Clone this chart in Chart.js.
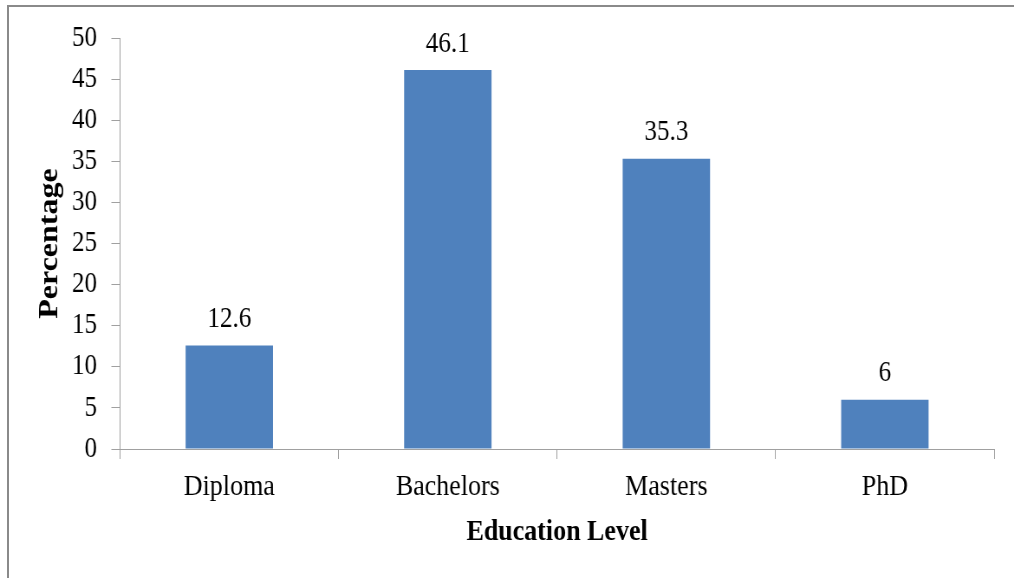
<!DOCTYPE html>
<html>
<head>
<meta charset="utf-8">
<script src="https://cdn.jsdelivr.net/npm/chart.js@4.4.1/dist/chart.umd.min.js"></script>
<style>
  html, body { margin: 0; padding: 0; background: #fff; overflow: hidden; }
  #frame {
    position: absolute; left: 7px; top: 5px; width: 1100px; height: 600px;
    border-top: 2px solid #8a8a8a; border-left: 2px solid #8a8a8a;
    box-sizing: border-box;
  }
  /* the chart is laid out on a wider canvas and narrowed to the page width,
     which gives the condensed serif lettering */
  #wrap { position: absolute; left: 0; top: 0; transform: scaleX(0.8667); transform-origin: 0 0; }
  canvas { display: block; }
</style>
</head>
<body>
<div id="frame"></div>
<div id="wrap"><canvas id="c" width="1170" height="578" style="width:1170px;height:578px"></canvas></div>
<script>
const categories = ['Diploma', 'Bachelors', 'Masters', 'PhD'];
const percentages = [12.6, 46.1, 35.3, 6];
const yTicks = [0, 5, 10, 15, 20, 25, 30, 35, 40, 45, 50];

const SERIF = '"Liberation Serif", "Times New Roman", serif';
const AXIS_GREY = '#a0a0a0';

// value labels above each bar
const barValueLabels = {
  id: 'barValueLabels',
  afterDatasetsDraw(chart) {
    const ctx = chart.ctx;
    const meta = chart.getDatasetMeta(0);
    const values = chart.data.datasets[0].data;
    ctx.save();
    ctx.font = '29px ' + SERIF;
    ctx.fillStyle = '#000';
    ctx.textAlign = 'center';
    ctx.textBaseline = 'alphabetic';
    meta.data.forEach((bar, i) => {
      ctx.fillText(String(values[i]), bar.x, bar.y - 18.5);
    });
    ctx.restore();
  }
};

new Chart(document.getElementById('c'), {
  type: 'bar',
  data: {
    labels: categories,
    datasets: [{
      data: percentages,
      backgroundColor: '#4F81BD',
      borderWidth: 0,
      barPercentage: 0.4,
      categoryPercentage: 1.0
    }]
  },
  options: {
    responsive: false,
    devicePixelRatio: 1,
    animation: false,
    layout: { padding: { left: 0, right: 23, top: 38, bottom: 0 } },
    plugins: {
      legend: { display: false },
      tooltip: { enabled: false }
    },
    scales: {
      x: {
        offset: true,
        grid: {
          display: true,
          offset: true,
          drawOnChartArea: false,
          drawTicks: true,
          tickLength: 10,
          color: AXIS_GREY
        },
        border: { display: true, color: AXIS_GREY, width: 1 },
        ticks: {
          color: '#000',
          padding: 10,
          font: { family: SERIF, size: 30 },
          maxRotation: 0
        },
        title: {
          display: true,
          text: 'Education Level',
          color: '#000',
          font: { family: SERIF, size: 30, weight: 'bold' },
          padding: { top: 0, bottom: 28 }
        },
        afterFit(scale) { scale.height = 129; }
      },
      y: {
        min: 0,
        max: 50,
        afterBuildTicks(scale) { scale.ticks = yTicks.map(v => ({ value: v })); },
        grid: {
          display: true,
          drawOnChartArea: false,
          drawTicks: true,
          tickLength: 10,
          color: AXIS_GREY
        },
        border: { display: true, color: AXIS_GREY, width: 1 },
        ticks: {
          color: '#000',
          padding: 16.5,
          font: { family: SERIF, size: 29 }
        },
        title: {
          display: true,
          text: 'Percentage',
          color: '#000',
          font: { family: SERIF, size: 32, weight: 'bold' },
          padding: { top: 39, bottom: 0 }
        },
        afterFit(scale) { scale.width = 138.5; }
      }
    }
  },
  plugins: [barValueLabels]
});
</script>
</body>
</html>
